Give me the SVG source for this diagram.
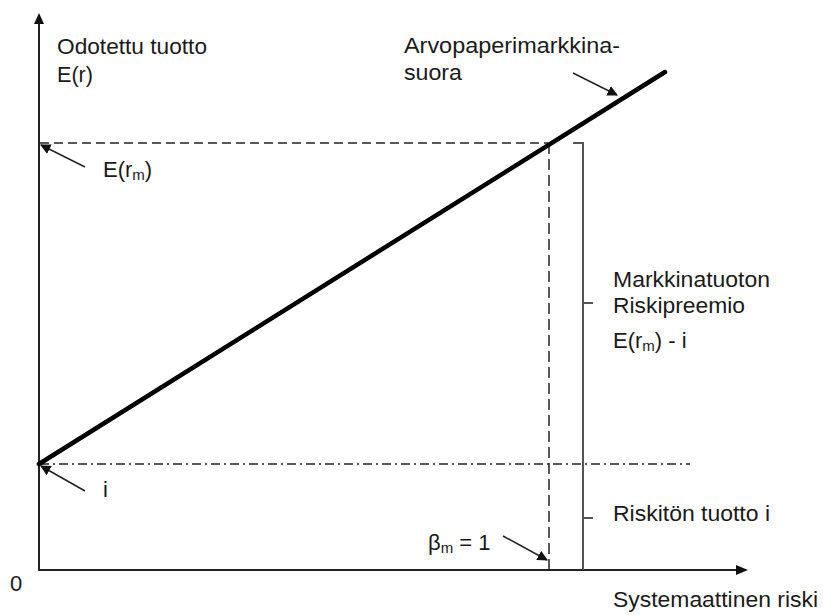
<svg xmlns="http://www.w3.org/2000/svg" width="823" height="615" viewBox="0 0 823 615">
<style>
text{font-family:"Liberation Sans",Arial,Helvetica,sans-serif;font-size:22px;fill:#1a1a1a}
.sub{font-size:15px}
.axis{stroke:#222;stroke-width:2;fill:none}
.sml{stroke:#000;stroke-width:4.5;fill:none;stroke-linecap:round}
.dash{stroke:#222;stroke-width:1.5;fill:none;stroke-dasharray:9 5}
.dashv{stroke:#222;stroke-width:1.5;fill:none;stroke-dasharray:11 5}
.dashdot{stroke:#222;stroke-width:1.5;fill:none;stroke-dasharray:9 4 2 4}
.brace{stroke:#555;stroke-width:2;fill:none}
.ptr{stroke:#222;stroke-width:1.5;fill:none;marker-end:url(#ah)}
</style>
<defs>
<marker id="ah" viewBox="0 0 10 10" refX="9" refY="5" markerWidth="7" markerHeight="7" orient="auto" markerUnits="strokeWidth">
<path d="M0,0 L10,5 L0,10 Z" fill="#111"/>
</marker>
</defs>
<rect width="823" height="615" fill="#fff"/>
<g id="axes">
<line class="axis" x1="39" y1="570" x2="39" y2="22"/>
<path d="M34,24 L39,13 L44,24 Z" fill="#111"/>
<line class="axis" x1="38" y1="570" x2="738" y2="570"/>
<path d="M736,565 L748,570 L736,575 Z" fill="#111"/>
<text x="10" y="591">0</text>
</g>
<g id="guides">
<line class="dash" x1="40" y1="143" x2="548" y2="143"/>
<line class="dashv" x1="549" y1="143" x2="549" y2="570"/>
<line class="dashdot" x1="40" y1="464" x2="690" y2="464"/>
</g>
<g id="sml">
<line class="sml" x1="39" y1="464" x2="665" y2="72"/>
</g>
<g id="brace">
<path class="brace" d="M573,143 L583,143 L583,570"/>
<line class="brace" x1="583" y1="303" x2="593" y2="303"/>
<line class="brace" x1="583" y1="518" x2="593" y2="518"/>
</g>
<g id="connectors">
<line class="ptr" x1="573" y1="73" x2="617" y2="95"/>
<line class="ptr" x1="85" y1="167" x2="41" y2="145"/>
<line class="ptr" x1="85" y1="491" x2="41" y2="466"/>
<line class="ptr" x1="503" y1="536" x2="547" y2="560"/>
</g>
<g id="label-yaxis">
<text x="57" y="54" textLength="150" lengthAdjust="spacingAndGlyphs">Odotettu tuotto</text>
<text x="57" y="82" textLength="36" lengthAdjust="spacingAndGlyphs">E(r)</text>
</g>
<g id="label-sml">
<text x="404" y="53" textLength="216" lengthAdjust="spacingAndGlyphs">Arvopaperimarkkina-</text>
<text x="404" y="80" textLength="58" lengthAdjust="spacingAndGlyphs">suora</text>
</g>
<g id="label-erm">
<text x="103" y="177">E(r<tspan class="sub" dy="3">m</tspan><tspan dy="-3">)</tspan></text>
</g>
<g id="label-i">
<text x="103" y="497">i</text>
</g>
<g id="label-beta">
<text x="428" y="550">β<tspan class="sub" dy="3">m</tspan><tspan dy="-3"> = 1</tspan></text>
</g>
<g id="label-premium">
<text x="613" y="287" textLength="157" lengthAdjust="spacingAndGlyphs">Markkinatuoton</text>
<text x="613" y="313" textLength="132" lengthAdjust="spacingAndGlyphs">Riskipreemio</text>
<text x="613" y="348">E(r<tspan class="sub" dy="3">m</tspan><tspan dy="-3">) - i</tspan></text>
</g>
<g id="label-riskfree">
<text x="613" y="521" textLength="157" lengthAdjust="spacingAndGlyphs">Riskitön tuotto i</text>
</g>
<g id="label-xaxis">
<text x="613" y="607" textLength="205" lengthAdjust="spacingAndGlyphs">Systemaattinen riski</text>
</g>
</svg>
